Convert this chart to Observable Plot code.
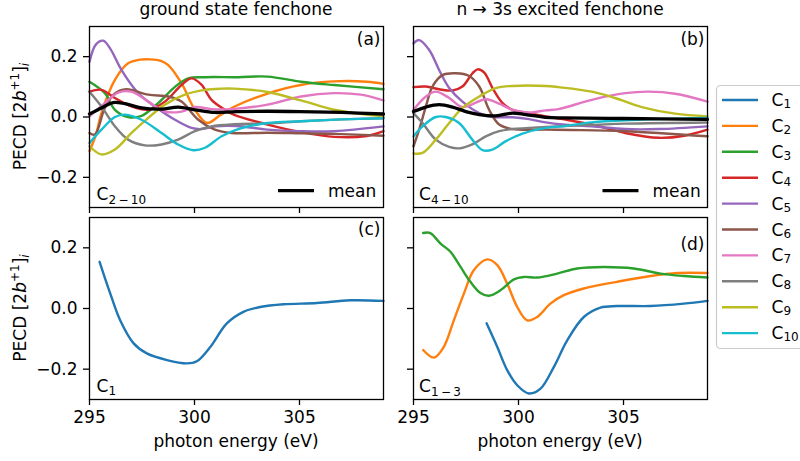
<!DOCTYPE html>
<html><head><meta charset="utf-8">
<script src="https://cdn.jsdelivr.net/npm/d3@7"></script>
<script src="https://cdn.jsdelivr.net/npm/@observablehq/plot@0.6"></script>
<style>
body{margin:0;background:white;}
#chart{position:relative;width:800px;height:461px;overflow:hidden;font-family:"DejaVu Sans";}
#chart svg{position:absolute;}
</style></head><body><div id="chart"></div>
<script>
// ---- axes / categories ----
const energyTicks = [295, 300, 305];
const pecdTicks = [-0.2, 0, 0.2];
const energyDomain = [295, 309];
const pecdDomain = [-0.3, 0.3];
const seriesNames = ["C1","C2","C3","C4","C5","C6","C7","C8","C9","C10"];
const seriesColors = ["#1f77b4","#ff7f0e","#2ca02c","#d62728","#9467bd","#8c564b","#e377c2","#7f7f7f","#bcbd22","#17becf"];
const panelTags = ["(a)","(b)","(c)","(d)"];
const columnTitles = ["ground state fenchone","n \u2192 3s excited fenchone"];

// ---- panel (a): ground state, C2..C10 [photon energy (eV), PECD] ----
const a_C2 = [[295,-0.113],[295.3,-0.06],[295.57,0.013],[296.21,0.123],[296.84,0.178],[297.4,0.19],[297.88,0.191],[298.4,0.186],[298.75,0.172],[299.38,0.112],[300.02,0.024],[300.6,-0.02],[301.2,0.005],[301.86,0.033],[303.45,0.077],[305.05,0.106],[306.62,0.118],[308.2,0.117],[309,0.11]];
const a_C3 = [[295,0.117],[295.73,0.079],[296.21,0.024],[296.84,0.0],[297.48,0.004],[298.27,0.046],[299.07,0.1],[299.7,0.128],[300.5,0.132],[302.08,0.132],[303.48,0.134],[305.07,0.117],[306.65,0.106],[309,0.092]];
const a_C4 = [[295,0.084],[295.57,0.09],[296.21,0.063],[297,0.035],[297.8,0.024],[298.59,0.051],[299.38,0.106],[299.86,0.128],[300.33,0.107],[300.81,0.057],[301.45,0.024],[301.89,0.007],[303.48,-0.025],[305.07,-0.05],[306.65,-0.066],[308.2,-0.063],[309,-0.047]];
const a_C5 = [[295,0.183],[295.3,0.24],[295.65,0.253],[296.0,0.225],[296.52,0.156],[297.32,0.079],[298.11,0.035],[299.07,-0.009],[299.86,-0.036],[300.3,-0.04],[301,-0.031],[302,-0.03],[303.48,-0.042],[305,-0.047],[306.65,-0.047],[309,-0.031]];
const a_C6 = [[295,-0.053],[295.26,-0.058],[295.73,0.03],[296.21,0.078],[296.75,0.092],[297.8,0.074],[298.75,0.068],[299.38,0.051],[300.18,-0.009],[300.97,-0.042],[301.76,-0.053],[303.48,-0.052],[305.07,-0.054],[306.65,-0.056],[309,-0.062]];
const a_C7 = [[295,0.002],[295.73,0.046],[296.37,0.081],[297,0.084],[297.8,0.051],[298.59,0.018],[299.38,0.018],[300.02,0.033],[300.81,0.026],[301.76,0.026],[303.48,0.041],[305.07,0.068],[306.65,0.079],[307.92,0.074],[309,0.055]];
const a_C8 = [[295,0.084],[295.57,0.035],[296.21,-0.031],[296.84,-0.075],[297.64,-0.094],[298.43,-0.091],[299.22,-0.075],[300.02,-0.047],[300.81,-0.031],[301.92,-0.024],[303.5,-0.021],[305.07,-0.014],[307,-0.008],[309,-0.004]];
const a_C9 = [[295,-0.097],[295.57,-0.124],[296.21,-0.108],[297,-0.053],[297.8,-0.003],[298.59,0.041],[299.54,0.074],[300.5,0.09],[301.29,0.094],[301.89,0.094],[303.48,0.083],[305.07,0.055],[306.65,0.024],[308.2,0.008],[309,0.003]];
const a_C10 = [[295,-0.086],[295.57,-0.042],[296.21,0.0],[296.69,0.008],[297.48,-0.009],[298.43,-0.053],[299.22,-0.091],[299.94,-0.11],[300.5,-0.102],[301.29,-0.064],[302.08,-0.04],[303.48,-0.02],[305.07,-0.014],[307,-0.008],[309,-0.004]];
const a_mean = [[295,0.01],[295.57,0.03],[296.13,0.048],[296.69,0.044],[297.48,0.03],[298.43,0.026],[299.22,0.033],[300.02,0.024],[300.97,0.015],[302,0.018],[303.5,0.019],[305,0.018],[307,0.015],[309,0.01]];

// ---- panel (b): n->3s excited, C4..C10 ----
const b_C4 = [[295,0.099],[295.59,0.101],[296.22,0.092],[296.86,0.088],[297.33,0.101],[297.81,0.145],[298.05,0.158],[298.37,0.147],[298.76,0.096],[299.24,0.046],[299.71,0.024],[300.5,0.013],[301.3,0.002],[302.1,-0.007],[303.49,-0.025],[305.08,-0.053],[306.67,-0.069],[307.9,-0.062],[309,-0.042]];
const b_C5 = [[295,0.244],[295.27,0.255],[295.75,0.222],[296.22,0.156],[296.7,0.096],[297.33,0.051],[298.13,0.013],[298.76,0.0],[299.71,-0.001],[300.5,-0.007],[301.3,-0.018],[302.1,-0.025],[303.49,-0.031],[305.08,-0.04],[306.67,-0.04],[309,-0.031]];
const b_C6 = [[295,-0.097],[295.27,-0.042],[295.59,0.035],[295.9,0.101],[296.38,0.139],[297.01,0.145],[297.65,0.136],[298.13,0.101],[298.6,0.024],[299.08,-0.025],[299.71,-0.04],[301.3,-0.042],[302.5,-0.043],[305.08,-0.047],[309,-0.064]];
const b_C7 = [[295,0.024],[295.59,0.068],[296.06,0.084],[296.7,0.063],[297.33,0.033],[298.44,0.059],[299.08,0.044],[299.71,0.024],[300.5,0.015],[301.3,0.022],[301.9,0.026],[303.49,0.057],[305.08,0.079],[306.19,0.084],[307.46,0.077],[309,0.051]];
const b_C8 = [[295,0.013],[295.43,-0.02],[296.06,-0.075],[296.7,-0.099],[297.17,-0.104],[297.8,-0.091],[298.44,-0.064],[299.08,-0.047],[299.71,-0.04],[301.3,-0.033],[302.5,-0.029],[305.08,-0.022],[309,-0.018]];
const b_C9 = [[295,-0.121],[295.43,-0.119],[296.06,-0.075],[296.7,-0.02],[297.33,0.03],[298.13,0.068],[298.92,0.096],[299.71,0.103],[301.3,0.103],[301.9,0.099],[303.49,0.084],[304.6,0.063],[305.87,0.033],[307.46,0.011],[309,0.002]];
const b_C10 = [[295,-0.064],[295.43,-0.031],[296.06,0.0],[296.54,0.0],[297.17,-0.02],[297.8,-0.075],[298.29,-0.11],[298.76,-0.108],[299.4,-0.08],[300.19,-0.055],[301.3,-0.036],[302.1,-0.031],[303.49,-0.018],[305.08,-0.011],[309,-0.003]];
const b_mean = [[295,0.018],[295.59,0.033],[296.22,0.041],[296.86,0.033],[297.49,0.018],[298.13,0.008],[298.92,0.004],[299.71,0.013],[300.35,0.008],[301.3,-0.001],[302.1,-0.003],[305,-0.005],[309,-0.008]];

// ---- panel (c): ground state, C1 ----
const c_C1 = [[295.48,0.154],[295.99,0.049],[296.46,-0.039],[297.1,-0.115],[297.73,-0.148],[298.69,-0.17],[299.64,-0.181],[300.11,-0.174],[300.75,-0.127],[301.54,-0.049],[302.33,-0.011],[303.13,0.005],[304.24,0.014],[305.83,0.018],[307.41,0.027],[309,0.025]];

// ---- panel (d): excited, C1..C3 ----
const d_C1 = [[298.48,-0.049],[298.99,-0.127],[299.46,-0.203],[299.94,-0.253],[300.49,-0.28],[301.05,-0.264],[301.68,-0.193],[302.32,-0.105],[303.11,-0.028],[303.9,0.003],[304.7,0.008],[306.29,0.008],[307.87,0.016],[309,0.025]];
const d_C2 = [[295.46,-0.137],[295.97,-0.162],[296.44,-0.127],[296.92,-0.039],[297.4,0.049],[297.87,0.126],[298.51,0.162],[298.99,0.143],[299.46,0.082],[299.94,0.005],[300.41,-0.039],[300.89,-0.028],[301.52,0.016],[302.16,0.044],[303.11,0.066],[304.7,0.088],[306.29,0.107],[307.56,0.117],[309,0.117]];
const d_C3 = [[295.46,0.249],[295.78,0.249],[296.29,0.214],[296.76,0.187],[297.24,0.137],[297.71,0.088],[298.19,0.051],[298.59,0.042],[299.14,0.06],[299.78,0.096],[300.25,0.104],[300.89,0.102],[301.84,0.115],[302.79,0.132],[304.06,0.137],[305.49,0.132],[306.76,0.115],[307.87,0.107],[309,0.102]];

// ---- build ----
const chart = document.getElementById("chart");
const ML = 70, MR = 10, MT = 10, MB = 50, PW = 294;

function toRows(list) {
  return list.flatMap(([name, pts]) => pts.map(([e, p]) => ({s: name, e, p})));
}

function panel({series, mean, left, top, h, showX, showY, tag, tagDy}) {
  const svg = Plot.plot({
    width: ML + PW + MR, height: MT + h + MB,
    marginLeft: ML, marginRight: MR, marginTop: MT, marginBottom: MB,
    x: {domain: energyDomain},
    y: {domain: pecdDomain},
    color: {domain: seriesNames, range: seriesColors},
    style: {fontFamily: "DejaVu Sans", fontSize: "17px", background: "transparent", color: "black", overflow: "visible"},
    marks: [
      Plot.line(toRows(series), {x: "e", y: "p", z: "s", stroke: "s", strokeWidth: 2.4, curve: "catmull-rom"}),
      mean ? Plot.line(mean, {x: d => d[0], y: d => d[1], stroke: "black", strokeWidth: 3.3, curve: "catmull-rom"}) : null,
      Plot.frame({stroke: "black", strokeWidth: 1.3}),
      Plot.axisX({ticks: energyTicks, tickSize: 6, tickPadding: 5, strokeWidth: 1.3, label: null,
                  tickFormat: showX ? d => String(d) : () => ""}),
      Plot.axisY({ticks: pecdTicks, tickSize: 6, tickPadding: 6, strokeWidth: 1.3, label: null,
                  tickFormat: showY ? d3.format(".1f") : () => ""}),
      Plot.text([tag], {frameAnchor: "top-right", text: d => d, textAnchor: "end", lineAnchor: "top", dx: -3, dy: tagDy, fill: "black"})
    ]
  });
  svg.style.position = "absolute";
  svg.style.left = (left - ML) + "px";
  svg.style.top = (top - MT) + "px";
  chart.appendChild(svg);
}

panel({series: [["C2",a_C2],["C3",a_C3],["C4",a_C4],["C5",a_C5],["C6",a_C6],["C7",a_C7],["C8",a_C8],["C9",a_C9],["C10",a_C10]],
       mean: a_mean, left: 89, top: 26, h: 181, showX: false, showY: true, tag: panelTags[0], tagDy: 6});
panel({series: [["C4",b_C4],["C5",b_C5],["C6",b_C6],["C7",b_C7],["C8",b_C8],["C9",b_C9],["C10",b_C10]],
       mean: b_mean, left: 413, top: 26, h: 181, showX: false, showY: false, tag: panelTags[1], tagDy: 6});
panel({series: [["C1",c_C1]], mean: null, left: 89, top: 217, h: 182, showX: true, showY: true, tag: panelTags[2], tagDy: 5.5});
panel({series: [["C1",d_C1],["C2",d_C2],["C3",d_C3]], mean: null, left: 413, top: 217, h: 182, showX: true, showY: false, tag: panelTags[3], tagDy: 20});

// ---- text overlay: titles, axis labels, annotations, legends ----
const ov = d3.select(chart).append("svg").attr("width", 800).attr("height", 461)
  .style("left", "0px").style("top", "0px")
  .attr("font-family", "DejaVu Sans").attr("font-size", 17).attr("fill", "black");

ov.append("text").attr("x", 236).attr("y", 15).attr("text-anchor", "middle").text(columnTitles[0]);
ov.append("text").attr("x", 560).attr("y", 15).attr("text-anchor", "middle").text(columnTitles[1]);
[236, 560].forEach(x => ov.append("text").attr("x", x).attr("y", 447).attr("text-anchor", "middle").text("photon energy (eV)"));

function ylabel(cy) {
  const t = ov.append("text").attr("transform", `translate(25.5,${cy}) rotate(-90)`).attr("text-anchor", "middle");
  t.append("tspan").text("PECD [2");
  t.append("tspan").attr("font-style", "italic").text("b");
  t.append("tspan").attr("font-size", 12).attr("dy", -7).text("+1");
  t.append("tspan").attr("dy", 7).text("]");
  t.append("tspan").attr("font-size", 12).attr("font-style", "italic").attr("dy", 3.5).text("i");
}
ylabel(116.5); ylabel(308);

function subLabel(x, y, main, sub, dy) {
  const t = ov.append("text").attr("x", x).attr("y", y);
  t.append("tspan").text(main);
  t.append("tspan").attr("font-size", 12).attr("dy", dy).text(sub);
}
subLabel(96.5, 200, "C", "2\u2009\u2212\u200910", 4);
subLabel(419, 200, "C", "4\u2009\u2212\u200910", 4);
subLabel(96.5, 392, "C", "1", 2.5);
subLabel(419, 392, "C", "1\u2009\u2212\u20093", 4);

// "mean" legends inside panels (a) and (b)
[[278, 328], [602.5, 652.5]].forEach(([x0, tx]) => {
  ov.append("line").attr("x1", x0).attr("x2", x0 + 36).attr("y1", 190.7).attr("y2", 190.7)
    .attr("stroke", "black").attr("stroke-width", 3.3);
  ov.append("text").attr("x", tx).attr("y", 196.8).text("mean");
});

// series legend on the right
ov.append("rect").attr("x", 716.5).attr("y", 85.5).attr("width", 100).attr("height", 263).attr("rx", 4)
  .attr("fill", "white").attr("fill-opacity", 0.8).attr("stroke", "#cccccc").attr("stroke-width", 1.2);
seriesNames.forEach((name, i) => {
  const y = 100 + i * 25.9;
  ov.append("line").attr("x1", 722).attr("x2", 758).attr("y1", y).attr("y2", y)
    .attr("stroke", seriesColors[i]).attr("stroke-width", 2.4);
  subLabel(771.5, y + 6, "C", name.slice(1), 2);
});
</script></body></html>
